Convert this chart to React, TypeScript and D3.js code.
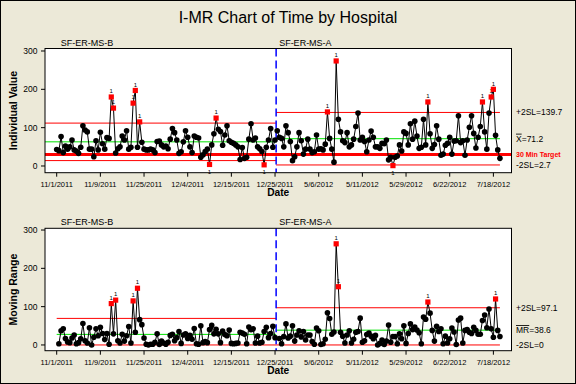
import React from 'react';
import * as d3 from 'd3';

const W = 576;
const H = 384;

// x axis tick labels (every 20 observations)
const tickIndex = [1, 21, 41, 61, 81, 101, 121, 141, 161, 181, 201];
const tickLabels = ['11/1/2011', '11/9/2011', '11/25/2011', '12/4/2011', '12/15/2011', '12/25/2011',
  '5/6/2012', '5/11/2012', '5/29/2012', '6/22/2012', '7/18/2012'];

const stageNames = ['SF-ER-MS-B', 'SF-ER-MS-A'];

// time values, stage B (observations 1..101)
const valuesB = [
  43, 40, 77, 35, 52, 44, 50, 68, 42, 39, 33, 49, 105, 94, 89, 44, 44, 24, 66, 42,
  88, 58, 44, 74, 72, 180, 151, 34, 45, 50, 78, 68, 92, 44, 49, 164, 197, 49, 115, 62,
  44, 42, 42, 44, 42, 35, 64, 65, 55,
  50, 52, 45, 70, 98, 87, 68, 33, 37, 63, 92, 75, 50, 35, 78, 75, 73, 23, 29, 38,
  44, 4, 55, 84, 125, 96, 90, 54, 81, 105, 66, 62, 59, 55, 50, 17, 48, 20, 23, 70,
  110, 68, 73, 50, 45, 38, 3, 49, 68, 98, 49, 68,
];

// time values, stage A (observations 102..204)
const valuesA = [
  92, 75, 72, 50, 105, 87, 64, 14, 24, 50, 87, 66, 31, 44, 70, 44, 35, 37, 81, 44,
  45, 42, 57, 141, 72, 44, 10, 274, 122,
  89, 66, 61, 87, 50, 55, 70, 103, 138, 68, 75, 64, 37, 68, 91, 75, 50, 50, 46, 59,
  58, 68, 16, 23,
  1, 23, 26, 55, 39, 89, 85, 55, 110, 70, 117, 78, 46, 49, 122, 55, 167,
  84, 46, 56, 105, 70, 28, 31, 54, 59, 75, 31, 65, 66, 131, 61, 66, 28, 68, 101,
  131, 85, 47, 75, 103, 167, 89, 44, 138, 180, 200, 80, 42, 20,
];

// [lower, center, upper] per stage
const iLimitsB = [14.1, 63.0, 111.9];
const iLimitsA = [2.7, 71.2, 139.7];
const mrLimitsB = [0, 27.6, 69.3];
const mrLimitsA = [0, 38.6, 97.1];
const target = 30;

const font = '"Liberation Sans", Arial, sans-serif';

type Pt = { i: number; v: number };

const x = d3.scaleLinear().domain([-4.36, 209.3]).range([45, 511.5]);
const plotLeft = 45;
const plotRight = 511.5;
const breakX = x(valuesB.length + 0.5);
const lastX = x(valuesB.length + valuesA.length);

const stageI: Pt[][] = [valuesB, valuesA].map((vals, s) => {
  const offset = s === 0 ? 0 : valuesB.length;
  return vals.map((v, k) => ({ i: offset + k + 1, v }));
});
const stageMR: Pt[][] = stageI.map(pts =>
  pts.slice(1).map((p, k) => ({ i: p.i, v: Math.abs(p.v - pts[k].v) })));

type Label = { text: string; over?: string; v: number; red?: boolean };

function Panel({ top, bottom, domain, data, limits, lineStart, yTitle, showTarget, labels }: {
  top: number; bottom: number; domain: number[]; data: Pt[][]; limits: number[][];
  lineStart: number; yTitle: string; showTarget: boolean; labels: Label[];
}) {
  const y = d3.scaleLinear().domain(domain).range([bottom, top]);
  const line = d3.line<Pt>().x(d => x(d.i)).y(d => y(d.v));
  const yTicks = [0, 100, 200, 300];

  return (
    <g>
      <rect x={plotLeft} y={top} width={plotRight - plotLeft} height={bottom - top} fill="#fff" />
      {limits.map((lim, s) => {
        const x0 = s === 0 ? lineStart : breakX;
        const x1 = s === 0 ? breakX : lastX;
        return (
          <g key={s}>
            <line x1={x0} x2={x1} y1={y(lim[1])} y2={y(lim[1])} stroke="#00e000" strokeWidth={1} />
            <line x1={x0} x2={x1} y1={y(lim[2])} y2={y(lim[2])} stroke="#f00" strokeWidth={1} />
            <line x1={x0} x2={x1} y1={y(lim[0])} y2={y(lim[0])} stroke="#f00" strokeWidth={1} />
          </g>
        );
      })}
      {showTarget && (
        <line x1={plotLeft} x2={plotRight} y1={y(target)} y2={y(target)} stroke="#f00" strokeWidth={3} />
      )}
      <line x1={breakX} x2={breakX} y1={top} y2={bottom} stroke="#0000ff" strokeWidth={1.5} strokeDasharray="8,4" />
      {data.map((pts, s) => (
        <path key={s} d={line(pts) || ''} fill="none" stroke="#000" strokeWidth={1} />
      ))}
      {data.map((pts, s) =>
        pts.map(p => {
          const lim = limits[s];
          const high = p.v > lim[2];
          const low = p.v < lim[0];
          const px = x(p.i);
          const py = y(p.v);
          if (high || low) {
            return (
              <g key={`${s}-${p.i}`}>
                <rect x={px - 2.6} y={py - 2.6} width={5.2} height={5.2} fill="#f00" />
                <text x={px} y={high ? py - 3.8 : py + 9.5} fontSize={6} textAnchor="middle"
                  fontFamily={font} fill="#000">1</text>
              </g>
            );
          }
          return <circle key={`${s}-${p.i}`} cx={px} cy={py} r={2.8} fill="#000" />;
        }))}
      <rect x={plotLeft} y={top} width={plotRight - plotLeft} height={bottom - top} fill="none" stroke="#000" strokeWidth={1} />
      {yTicks.map(t => (
        <g key={t}>
          <line x1={plotLeft - 4} x2={plotLeft} y1={y(t)} y2={y(t)} stroke="#000" />
          <text x={37.5} y={y(t)} dy="0.35em" textAnchor="end" fontSize={8.5} fontFamily={font}>{t}</text>
        </g>
      ))}
      {tickIndex.map((t, k) => (
        <g key={t}>
          <line x1={x(t)} x2={x(t)} y1={bottom} y2={bottom + 4} stroke="#000" />
          <text x={x(t)} y={bottom + 14} textAnchor="middle" fontSize={7.5} fontFamily={font}>{tickLabels[k]}</text>
        </g>
      ))}
      <text x={(plotLeft + plotRight) / 2} y={bottom + 23.6} textAnchor="middle" fontSize={10.2}
        fontWeight="bold" fontFamily={font}>Date</text>
      <text transform={`translate(17,${(top + bottom) / 2}) rotate(-90)`} textAnchor="middle"
        fontSize={10.5} fontWeight="bold" fontFamily={font}>{yTitle}</text>
      <text x={60.7} y={top - 3} fontSize={9} fontFamily={font}>{stageNames[0]}</text>
      <text x={breakX + 3} y={top - 3} fontSize={9} fontFamily={font}>{stageNames[1]}</text>
      {labels.map((l, k) => (
        <text key={k} x={516} y={y(l.v)} dy="0.35em" fontSize={l.red ? 7 : 8.5}
          fontWeight={l.red ? 'bold' : 'normal'} fill={l.red ? '#f00' : '#000'} fontFamily={font}>
          {l.over && <tspan style={{ textDecoration: 'overline' }}>{l.over}</tspan>}
          {l.text}
        </text>
      ))}
    </g>
  );
}

export default function App() {
  return (
    <svg width={W} height={H} style={{ position: 'absolute', left: 0, top: 0, display: 'block' }}>
      <rect x={0.5} y={0.5} width={W - 1} height={H - 1} fill="#ECE9D8" stroke="#000" strokeWidth={1} />
      <text x={W / 2} y={23} textAnchor="middle" fontSize={16} fontFamily={font}>I-MR Chart of Time by Hospital</text>
      <Panel
        top={48.5} bottom={172.7} domain={[-17.5, 306.5]}
        data={stageI} limits={[iLimitsB, iLimitsA]} lineStart={plotLeft}
        yTitle="Individual Value" showTarget
        labels={[
          { text: `+2SL=${iLimitsA[2]}`, v: iLimitsA[2] },
          { over: 'X', text: `=${iLimitsA[1]}`, v: iLimitsA[1] },
          { text: '30 Min Target', v: target, red: true },
          { text: `-2SL=${iLimitsA[0]}`, v: iLimitsA[0] },
        ]}
      />
      <Panel
        top={228.3} bottom={350.7} domain={[-15, 304.5]}
        data={stageMR} limits={[mrLimitsB, mrLimitsA]} lineStart={x(1)}
        yTitle="Moving Range" showTarget={false}
        labels={[
          { text: `+2SL=${mrLimitsA[2]}`, v: mrLimitsA[2] },
          { over: 'MR', text: `=${mrLimitsA[1]}`, v: mrLimitsA[1] },
          { text: `-2SL=${mrLimitsA[0]}`, v: mrLimitsA[0] },
        ]}
      />
    </svg>
  );
}
